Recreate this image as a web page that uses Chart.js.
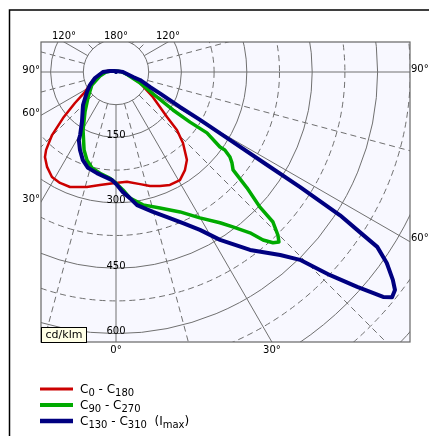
<!DOCTYPE html>
<html>
<head>
<meta charset="utf-8">
<script src="https://cdn.jsdelivr.net/npm/chart.js@4.4.0/dist/chart.umd.min.js"></script>
<style>
html, body { margin: 0; padding: 0; background: #fff; }
canvas { display: block; }
</style>
</head>
<body>
<canvas id="polar" width="429" height="436"></canvas>
<script>
/* Lichtverteilungskurve (cd/klm) als Polardiagramm mit Chart.js */

// Winkel in Grad: 0 = senkrecht nach unten, negativ = linke Halbebene
const redAngles = [-180, -150, -120, -100, -90, -80, -70.8, -57.2, -52.9, -49, -45.4, -41.9, -39.9, -36, -31.4, -26.8, -21.8, -14.2, -8.1, -1.5,
    5.7, 12.1, 16.6, 21.1, 25.5, 30.6, 35.1, 38.9, 43.3, 46.4, 48.6, 55.9, 65.4, 74, 90, 100, 120, 150, 180];
const redValues = [0, 3, 8, 18, 30, 41, 56, 85, 118, 161, 206, 240, 254, 269, 282, 285, 284, 272, 262, 255,
    253, 263, 273, 280, 287, 288, 275, 259, 224, 193, 156, 102, 61, 33, 16, 9, 5, 2, 0];

const greenAngles = [-180, -150, -120, -100, -90, -76, -61.6, -47.1, -37.8, -29.6, -22.3, -18.2, -14, -9, -3.2, 0,
    3.4, 6.3, 11.5, 17.9, 24.6, 29.9, 34.6, 37, 39.8, 41.2, 42.6, 43.8, 44.8, 46.3, 46.8, 48.5, 50.1, 51.9, 53.3,
    54.4, 54.2, 56.2, 55.9, 56.3, 58.6, 65.4, 76, 90, 100, 120, 150, 180];
const greenValues = [0, 2, 5, 12, 23, 38, 63, 88, 116, 153, 193, 213, 227, 235, 244, 255,
    271, 291, 311, 328, 353, 386, 420, 445, 480, 512, 532, 540, 527, 498, 453, 401, 350, 338, 326,
    307, 294, 251, 205, 157, 110, 61, 28, 14, 8, 4, 2, 0];

const blueAngles = [-180, -150, -120, -100, -90, -74.1, -63.4, -55.4, -45, -34.2, -29.7, -28.6, -24.8, -20.6, -16.3, -10.7, -6, -2.1,
    0.5, 3.3, 6.3, 9, 14.8, 19.4, 23.9, 28, 31.8, 37, 41.9, 44.4, 46.5, 48.3, 49.3, 49.9, 50.8, 52, 53.1, 54.8,
    56.2, 56.7, 57.4, 58, 58.4, 59.2, 60.3, 61.3, 64, 66.2, 71.6, 73.6, 90, 100, 120, 150, 180];
const blueValues = [0, 2, 5, 14, 30, 50, 67, 81, 107, 139, 166, 178, 197, 216, 229, 236, 242, 248,
    259, 276, 291, 309, 332, 353, 379, 410, 453, 511, 564, 603, 677, 741, 777, 801, 817, 812, 794, 760,
    721, 669, 610, 498, 407, 304, 222, 167, 112, 85, 58, 41, 16, 8, 4, 2, 0];

// Raster
const ringValues = [75, 150, 225, 300, 375, 450, 525, 600, 675, 750, 825, 900, 975];
const ringLabels = [150, 300, 450, 600];
const spokeAngles = [-165, -150, -135, -120, -105, -90, -75, -60, -45, -30, -15, 0, 15, 30, 45, 60, 75, 90, 105, 120, 135, 150, 165, 180];
const edgeLabelAngles = [-90, -60, -30, 0, 30, 60, 90, -120, 180, 120];

// Legende: [Text, tiefgestellt]
const legendRed = [['C', 0], ['0', 1], [' - C', 0], ['180', 1]];
const legendGreen = [['C', 0], ['90', 1], [' - C', 0], ['270', 1]];
const legendBlue = [['C', 0], ['130', 1], [' - C', 0], ['310', 1], ['  (I', 0], ['max', 1], [')', 0]];

const K = 0.436; // Pixel pro cd/klm
const FONT = '"DejaVu Sans", Verdana, sans-serif';

function toPoints(angles, values) {
    return angles.map((a, i) => {
        const rad = a * Math.PI / 180;
        return { x: values[i] * Math.sin(rad), y: -values[i] * Math.cos(rad) };
    });
}

function drawParts(ctx, parts, x, y) {
    parts.forEach(([txt, sub]) => {
        ctx.font = (sub ? '10px ' : '12px ') + FONT;
        ctx.fillText(txt, x, sub ? y + 3 : y);
        x += ctx.measureText(txt).width;
    });
}

const polarGrid = {
    id: 'polarGrid',
    beforeDraw(chart) {
        const ctx = chart.ctx;
        const a = chart.chartArea;
        ctx.save();
        ctx.fillStyle = '#fff';
        ctx.fillRect(0, 0, chart.width, chart.height);
        // Rahmen
        ctx.strokeStyle = '#000';
        ctx.lineWidth = 1.5;
        ctx.beginPath();
        ctx.moveTo(9.5, chart.height);
        ctx.lineTo(9.5, 10);
        ctx.lineTo(chart.width, 10);
        ctx.stroke();
        ctx.fillStyle = '#f8f8ff';
        ctx.fillRect(a.left, a.top, a.right - a.left, a.bottom - a.top);
        ctx.restore();
    },
    beforeDatasetsDraw(chart) {
        const ctx = chart.ctx;
        const a = chart.chartArea;
        const xs = chart.scales.x, ys = chart.scales.y;
        const cx = xs.getPixelForValue(0), cy = ys.getPixelForValue(0);
        const rad = v => xs.getPixelForValue(v) - cx;
        ctx.save();
        ctx.beginPath();
        ctx.rect(a.left, a.top, a.right - a.left, a.bottom - a.top);
        ctx.clip();
        ctx.strokeStyle = '#707070';
        ctx.lineWidth = 1;
        ringValues.forEach((v, i) => {
            ctx.setLineDash(i === 0 || v % 150 === 0 ? [] : [6, 4]);
            ctx.beginPath();
            ctx.arc(cx, cy, rad(v), 0, Math.PI * 2);
            ctx.stroke();
        });
        const r0 = rad(ringValues[0]);
        const r1 = rad(2000);
        spokeAngles.forEach(g => {
            ctx.setLineDash(g % 30 === 0 ? [] : [6, 4]);
            const s = Math.sin(g * Math.PI / 180), c = Math.cos(g * Math.PI / 180);
            ctx.beginPath();
            ctx.moveTo(cx + r0 * s, cy + r0 * c);
            ctx.lineTo(cx + r1 * s, cy + r1 * c);
            ctx.stroke();
        });
        ctx.setLineDash([]);
        ctx.fillStyle = '#000';
        ctx.font = '10px ' + FONT;
        ctx.textAlign = 'center';
        ctx.textBaseline = 'middle';
        ringLabels.forEach(v => ctx.fillText(String(v), cx, cy + rad(v) - 2));
        ctx.restore();
    },
    afterDatasetsDraw(chart) {
        const ctx = chart.ctx;
        const a = chart.chartArea;
        const xs = chart.scales.x, ys = chart.scales.y;
        const cx = xs.getPixelForValue(0), cy = ys.getPixelForValue(0);
        ctx.save();
        ctx.strokeStyle = '#666';
        ctx.lineWidth = 1.2;
        ctx.strokeRect(a.left, a.top, a.right - a.left, a.bottom - a.top);

        // Winkelbeschriftung am Rand
        ctx.fillStyle = '#000';
        ctx.font = '10px ' + FONT;
        ctx.textBaseline = 'middle';
        edgeLabelAngles.forEach(g => {
            const s = Math.sin(g * Math.PI / 180), c = Math.cos(g * Math.PI / 180);
            let t = Infinity, edge = '';
            if (s > 1e-9) { const k = (a.right - cx) / s; if (k < t) { t = k; edge = 'r'; } }
            if (s < -1e-9) { const k = (a.left - cx) / s; if (k < t) { t = k; edge = 'l'; } }
            if (c > 1e-9) { const k = (a.bottom - cy) / c; if (k < t) { t = k; edge = 'b'; } }
            if (c < -1e-9) { const k = (a.top - cy) / c; if (k < t) { t = k; edge = 't'; } }
            const hx = cx + t * s, hy = cy + t * c;
            const txt = Math.abs(g) + '°';
            if (edge === 'l') { ctx.textAlign = 'right'; ctx.fillText(txt, a.left - 1, hy - 2); }
            if (edge === 'r') { ctx.textAlign = 'left'; ctx.fillText(txt, a.right + 1, hy - 3); }
            if (edge === 'b') { ctx.textAlign = 'center'; ctx.fillText(txt, hx, a.bottom + 8); }
            if (edge === 't') { ctx.textAlign = 'center'; ctx.fillText(txt, hx, a.top - 6); }
        });

        // Einheit
        ctx.fillStyle = '#ffffe6';
        ctx.fillRect(a.left, a.bottom - 15, 45, 15);
        ctx.strokeStyle = '#000';
        ctx.lineWidth = 1;
        ctx.strokeRect(a.left + 0.5, a.bottom - 14.5, 45, 15);
        ctx.fillStyle = '#000';
        ctx.font = '11px ' + FONT;
        ctx.textAlign = 'center';
        ctx.fillText('cd/klm', a.left + 23, a.bottom - 7);

        // Legende
        const rows = [legendRed, legendGreen, legendBlue];
        ctx.textAlign = 'left';
        ctx.textBaseline = 'alphabetic';
        [2, 1, 0].forEach((order, i) => {
            const ds = chart.data.datasets.find(d => d.order === order);
            const y = 389 + i * 16;
            ctx.strokeStyle = ds.borderColor;
            ctx.lineWidth = ds.borderWidth + 0.5;
            ctx.beginPath();
            ctx.moveTo(40, y);
            ctx.lineTo(73, y);
            ctx.stroke();
            ctx.fillStyle = '#000';
            drawParts(ctx, rows[i], 80, y + 4);
        });
        ctx.restore();
    }
};

const lineStyle = { showLine: true, pointRadius: 0, fill: false, tension: 0, borderJoinStyle: 'round', borderCapStyle: 'round' };

new Chart(document.getElementById('polar'), {
    type: 'scatter',
    data: {
        datasets: [
            Object.assign({ label: 'C0 - C180', data: toPoints(redAngles, redValues), borderColor: '#cc0000', borderWidth: 2.5, order: 2 }, lineStyle),
            Object.assign({ label: 'C90 - C270', data: toPoints(greenAngles, greenValues), borderColor: '#00aa00', borderWidth: 3.5, order: 1 }, lineStyle),
            Object.assign({ label: 'C130 - C310 (Imax)', data: toPoints(blueAngles, blueValues), borderColor: '#000080', borderWidth: 4, order: 0 }, lineStyle)
        ]
    },
    options: {
        responsive: false,
        animation: false,
        layout: { padding: { left: 41, top: 42, right: 19, bottom: 94 } },
        scales: {
            x: { type: 'linear', display: false, min: -75 / K, max: 294 / K },
            y: { type: 'linear', display: false, min: -270 / K, max: 30 / K }
        },
        plugins: {
            legend: { display: false },
            tooltip: { enabled: false }
        }
    },
    plugins: [polarGrid]
});
</script>
</body>
</html>
